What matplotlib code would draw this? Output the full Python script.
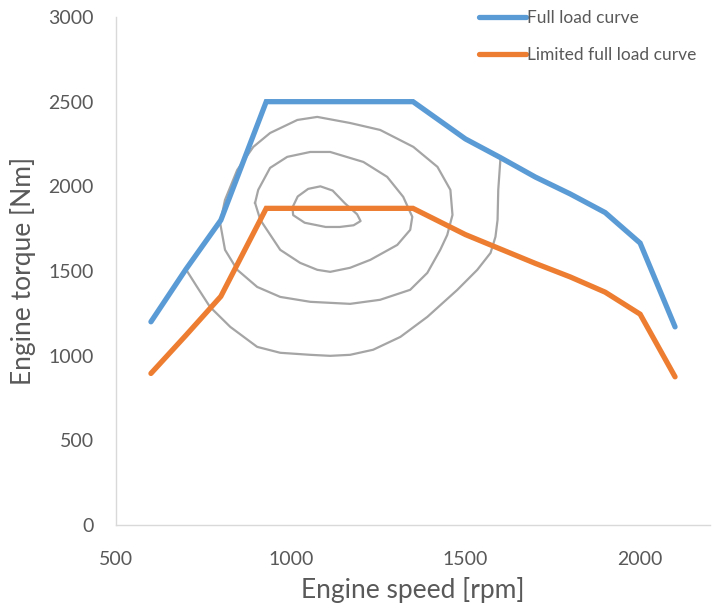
import matplotlib
matplotlib.use("Agg")
import matplotlib.pyplot as plt

# Full load curve
full_speed = [600, 700, 800, 930, 1350, 1500, 1600, 1700, 1800, 1900, 2000, 2100]
full_torque = [1200, 1510, 1800, 2500, 2500, 2280, 2170, 2055, 1955, 1845, 1665, 1170]

# Limited full load curve
lim_speed = [600, 700, 800, 930, 1350, 1500, 1600, 1700, 1800, 1900, 2000, 2100]
lim_torque = [895, 1120, 1350, 1870, 1870, 1715, 1630, 1545, 1465, 1375, 1245, 875]

# Efficiency contours (gray)
c1_x = [1005, 1020, 1050, 1085, 1120, 1155, 1190, 1200, 1180, 1140, 1100, 1040, 1007, 1005]
c1_y = [1875, 1940, 1985, 2000, 1975, 1900, 1835, 1795, 1770, 1760, 1760, 1785, 1830, 1875]

c2_x = [898, 913, 970, 1027, 1076, 1113, 1170, 1228, 1305, 1342, 1348, 1322, 1276, 1208, 1113, 1056, 990, 941, 907, 898]
c2_y = [1902, 1802, 1625, 1548, 1507, 1495, 1519, 1566, 1654, 1743, 1820, 1938, 2056, 2144, 2203, 2203, 2174, 2109, 1979, 1902]

c3_x = [798, 812, 847, 893, 941, 1019, 1076, 1170, 1256, 1351, 1420, 1457, 1463, 1448, 1428, 1391, 1342, 1256, 1170, 1056, 970, 904, 847, 812, 798]
c3_y = [1784, 1920, 2097, 2233, 2315, 2392, 2410, 2374, 2333, 2233, 2115, 1979, 1831, 1713, 1625, 1489, 1389, 1330, 1306, 1318, 1347, 1406, 1507, 1625, 1784]

c4_x = [701, 732, 769, 827, 904, 970, 1056, 1113, 1170, 1236, 1314, 1391, 1477, 1534, 1572, 1586, 1592, 1594, 1600]
c4_y = [1507, 1406, 1288, 1170, 1052, 1017, 1005, 999, 1005, 1035, 1111, 1229, 1389, 1507, 1607, 1702, 1802, 1979, 2156]

x_ticks = [500, 1000, 1500, 2000]
y_ticks = [0, 500, 1000, 1500, 2000, 2500, 3000]

plt.rcParams['font.family'] = ['Lato', 'DejaVu Sans']

fig = plt.figure(figsize=(7.12, 6.13), dpi=100)
ax = fig.add_axes([116/712, 1 - 525/613, (710-116)/712, (525-17)/613])

gray = '#A5A5A5'
for cx, cy in [(c1_x, c1_y), (c2_x, c2_y), (c3_x, c3_y), (c4_x, c4_y)]:
    ax.plot(cx, cy, color=gray, lw=1.6, solid_joinstyle='round', zorder=2)

ax.plot(full_speed, full_torque, color='#5B9BD5', lw=3.8, solid_joinstyle='miter',
        solid_capstyle='round', label='Full load curve', zorder=3)
ax.plot(lim_speed, lim_torque, color='#ED7D31', lw=3.8, solid_joinstyle='miter',
        solid_capstyle='round', label='Limited full load curve', zorder=3)

ax.set_xlim(500, 2200)
ax.set_ylim(0, 3000)
ax.set_xticks(x_ticks)
ax.set_yticks(y_ticks)
ax.tick_params(length=0, labelsize=14, colors='#595959')
ax.tick_params(axis='y', pad=16)
ax.tick_params(axis='x', pad=19)
for s in ['top', 'right']:
    ax.spines[s].set_visible(False)
for s in ['left', 'bottom']:
    ax.spines[s].set_color('#D9D9D9')
    ax.spines[s].set_linewidth(1.0)

ax.set_xlabel('Engine speed [rpm]', fontsize=19, color='#595959', labelpad=6)
ax.set_ylabel('Engine torque [Nm]', fontsize=19, color='#595959', labelpad=9)

leg = fig.legend(loc='upper left', bbox_to_anchor=(479/712, 1 - 10/613), frameon=False,
                 fontsize=12.5, handlelength=2.7, handletextpad=0.05,
                 labelspacing=1.2, borderpad=0, borderaxespad=0)
for t in leg.get_texts():
    t.set_color('#595959')

fig.savefig('out.png', dpi=100)
